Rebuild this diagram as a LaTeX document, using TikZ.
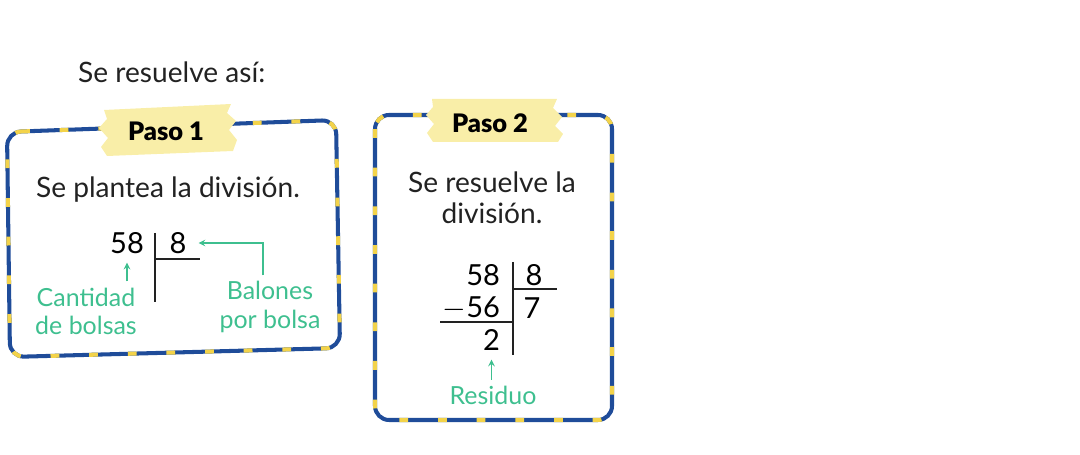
\documentclass[tikz,border=0pt]{standalone}
\usepackage{fontspec}
\setmainfont{Lato}
\newfontfamily\negra{Lato Black}
\usetikzlibrary{positioning}
\usetikzlibrary{calc}
\usetikzlibrary{arrows}

\definecolor{azul}{HTML}{1F4C99}
\definecolor{amarillo}{HTML}{F3D34A}
\definecolor{cinta}{HTML}{F9EEA8}
\definecolor{verde}{HTML}{3EBF8F}
\definecolor{tinta}{HTML}{222222}

\tikzset{
  marco/.style={draw=azul, line width=2.3pt, rounded corners=8pt,
    postaction={draw=amarillo, line width=2.3pt, dash pattern=on 5pt off 17pt}},
  papel/.style={fill=cinta, draw=none},
  paso/.style={font=\negra\fontsize{14.5}{17}\selectfont, text=black},
  texto/.style={font=\fontsize{16}{17.8}\selectfont, text=tinta, align=center},
  cifra/.style={font=\fontsize{16.5}{19}\selectfont, text=black, inner sep=1pt},
  nota/.style={font=\fontsize{14.2}{16}\selectfont, text=verde, align=center},
  raya/.style={draw=tinta, line width=0.7pt},
  flecha/.style={->, >=stealth, draw=verde, line width=0.7pt}
}

\begin{document}
\begin{tikzpicture}[x=0.02cm, y=-0.02cm]
    \useasboundingbox (0,0) rectangle (1080,455);
    \node [texto, anchor=west] (titulo) at (72,72) {Se resuelve así:};

    % paso 1
    \draw [marco] (7,132) -- (336,120) -- (340,348) -- (10,357) -- cycle;
    \path [papel] (104,110) -- (231,104) -- (227,113) -- (236,121) -- (229,130)
          -- (237,140) -- (233,151) -- (107,156) -- (101,147) -- (108,138)
          -- (99,128) -- (107,119) -- cycle;
    \node [paso] (p1) at (166,131) {Paso 1};
    \node [texto] (t1) at (168,190) {Se plantea la división.};

    \node [cifra] (dvd1) at (127,243) {58};
    \node [cifra] (dvs1) at (178,243) {8};
    \coordinate (c1a) at (155,233);
    \coordinate (c1b) at (155,302);
    \coordinate (c1c) at (200,259);
    \draw [raya] (c1a) -- (c1b);
    \draw [raya] (c1a |- c1c) -- (c1c);

    \node [nota] (cant) at (86,311) {Cantidad\\de bolsas};
    \node [nota] (bal) at (270,307) {Balones\\por bolsa};
    \draw [flecha, shorten >=4pt] (cant.north -| dvd1.south) -- (dvd1.south);
    \draw [flecha] ($(bal.north)+(-7,0)$) |- ($(dvs1.east)+(10,0)$);

    % paso 2
    \draw [marco] (375,115) rectangle (612,420);
    \path [papel] (432,99) -- (557,99) -- (553,108) -- (562,117) -- (555,126)
          -- (563,134) -- (558,142) -- (433,142) -- (427,133) -- (434,124)
          -- (426,115) -- (433,107) -- cycle;
    \node [paso] (p2) at (490,123) {Paso 2};
    \node [texto] (t2) at (492,198) {Se resuelve la\\división.};

    \node [cifra, anchor=east] (dvd2) at (502,275) {58};
    \node [cifra, anchor=east] (res2) at (502,308) {$-$56};
    \node [cifra, anchor=east] (rst2) at (502,340) {2};
    \node [cifra] (dvs2) at (534,275) {8};
    \node [cifra] (coc2) at (532,308) {7};
    \coordinate (c2a) at (513,262);
    \coordinate (c2b) at (513,355);
    \draw [raya] (c2a) -- (c2b);
    \draw [raya] (513,289) -- (557,289);
    \draw [raya] (440,322) -- (513,322);

    \node [nota] (resid) at (493,395) {Residuo};
    \draw [flecha, shorten >=4pt] (resid.north -| rst2.south) -- (rst2.south);
\end{tikzpicture}
\end{document}
